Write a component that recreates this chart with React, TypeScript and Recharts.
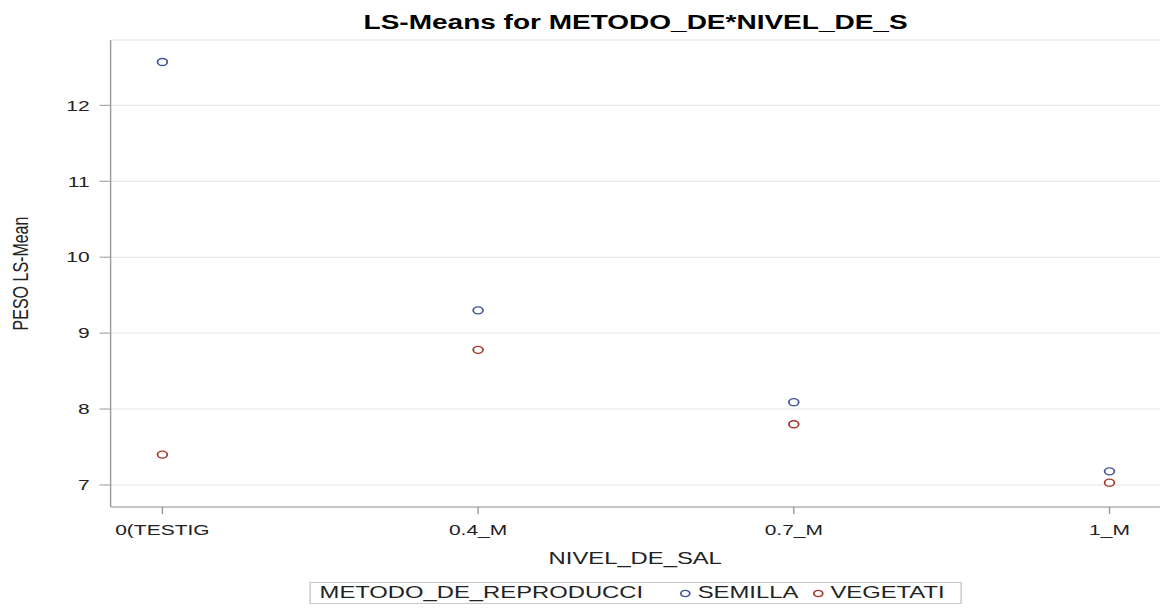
import React from "react";
import { LineChart, Line, XAxis, YAxis, CartesianGrid, Legend } from "recharts";

const niveles = ["0(TESTIG", "0.4_M", "0.7_M", "1_M"];
const semilla = [12.57, 9.3, 8.09, 7.18];
const vegetati = [7.4, 8.78, 7.8, 7.03];
const yTicks = [7, 8, 9, 10, 11, 12];

const series = [
  { key: "semilla", name: "SEMILLA", color: "#445694" },
  { key: "vegetati", name: "VEGETATI", color: "#A23A2E" },
];

const data = niveles.map((nivel, i) => ({
  nivel,
  semilla: semilla[i],
  vegetati: vegetati[i],
}));

const font = "'Liberation Sans', Arial, sans-serif";
const frame = "#9a9a9a";
// the reference is stretched sideways, so the chart is drawn narrow and scaled
const stretch = 1.4;
const W = 831;
const H = 608;

const LegendBox = () => (
  <div style={{ display: "flex", justifyContent: "center" }}>
    <div
      style={{
        display: "inline-flex",
        alignItems: "center",
        height: 22,
        boxSizing: "border-box",
        border: "1px solid #c9c9c9",
        padding: "0 11px 0 6px",
        fontSize: 17,
        lineHeight: "20px",
        color: "#222",
        fontFamily: font,
        whiteSpace: "nowrap",
      }}
    >
      <span>METODO_DE_REPRODUCCI</span>
      {series.map((s, i) => (
        <span
          key={s.key}
          style={{ display: "inline-flex", alignItems: "center", marginLeft: i === 0 ? 26 : 10 }}
        >
          <svg width={9} height={9}>
            <circle cx={4.5} cy={4.5} r={3.2} stroke={s.color} strokeWidth={1.2} fill="none" />
          </svg>
          <span style={{ marginLeft: 4 }}>{s.name}</span>
        </span>
      ))}
    </div>
  </div>
);

const YLabel = (props: any) => {
  const vb = props.viewBox ?? { x: 0, y: 40, width: 79, height: 467 };
  const x = vb.x + 14.5;
  const y = vb.y + vb.height / 2;
  return (
    <text
      x={x}
      y={y}
      transform={`rotate(-90, ${x}, ${y})`}
      textAnchor="middle"
      dominantBaseline="central"
      fontSize={16}
      fill="#222"
      fontFamily={font}
    >
      PESO LS-Mean
    </text>
  );
};

export default function App() {
  return (
    <div
      style={{
        position: "absolute",
        left: 0,
        top: 0,
        width: W,
        height: H,
        background: "#fff",
        transform: `scaleX(${stretch})`,
        transformOrigin: "0 0",
        fontFamily: font,
      }}
    >
      <div
        style={{
          position: "absolute",
          top: 10,
          left: 79,
          width: 750,
          textAlign: "center",
          fontSize: 20,
          fontWeight: "bold",
          lineHeight: "24px",
          color: "#000",
        }}
      >
        LS-Means for METODO_DE*NIVEL_DE_S
      </div>
      <LineChart width={W} height={H} data={data} margin={{ top: 40, right: 2.5, bottom: 4, left: 0 }}>
        <CartesianGrid vertical={false} stroke="#e6e6e6" />
        <XAxis
          dataKey="nivel"
          padding={{ left: 37, right: 36 }}
          height={75}
          stroke={frame}
          tickSize={7}
          tickMargin={10}
          tick={{ fontSize: 15, fill: "#222", fontFamily: font }}
          label={{
            value: "NIVEL_DE_SAL",
            position: "insideBottom",
            offset: 18,
            fontSize: 17,
            fill: "#222",
            fontFamily: font,
          }}
        />
        <XAxis
          xAxisId="top"
          orientation="top"
          height={0}
          tick={false}
          tickLine={false}
          stroke={frame}
        />
        <YAxis
          domain={[6.71, 12.86]}
          ticks={yTicks}
          allowDataOverflow
          width={79}
          stroke={frame}
          tickSize={8}
          tickMargin={7}
          tick={{ fontSize: 15, fill: "#222", fontFamily: font }}
          label={<YLabel />}
        />
        <YAxis
          yAxisId="right"
          orientation="right"
          width={0}
          tick={false}
          tickLine={false}
          stroke={frame}
        />
        <Legend
          verticalAlign="bottom"
          content={<LegendBox />}
          wrapperStyle={{ left: 79, width: 750 }}
        />
        {series.map((s) => (
          <Line
            key={s.key}
            dataKey={s.key}
            name={s.name}
            stroke="none"
            dot={{ r: 3.5, stroke: s.color, strokeWidth: 1.3, fill: "none" }}
            activeDot={false}
            isAnimationActive={false}
          />
        ))}
      </LineChart>
    </div>
  );
}
